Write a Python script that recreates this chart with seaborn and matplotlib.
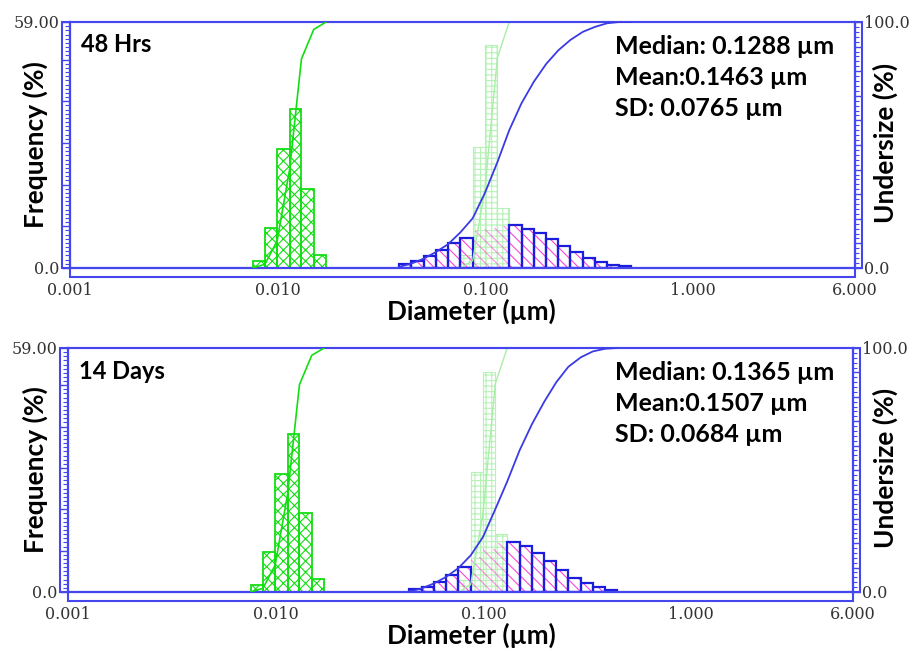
import numpy as np
import pandas as pd
import matplotlib
matplotlib.use("Agg")
import matplotlib.pyplot as plt
import matplotlib.ticker as mticker
from matplotlib.patches import Rectangle
import seaborn as sns

# ---------------- data ----------------
# size-class boundaries of the analyser (µm)
size_edges_um = [0.00757, 0.00867, 0.00993, 0.0114, 0.0130, 0.0149, 0.0171,
                 0.0196, 0.0224, 0.0256, 0.0294, 0.0336, 0.0385, 0.0440,
                 0.0504, 0.0577, 0.0661, 0.0757, 0.0867, 0.0993, 0.114,
                 0.130, 0.149, 0.171, 0.196, 0.224, 0.256, 0.294, 0.336,
                 0.385, 0.440, 0.504]

panel_labels = ["48 Hrs", "14 Days"]
median_text = ["Median: 0.1288 µm", "Median: 0.1365 µm"]
mean_text = ["Mean:0.1463 µm", "Mean:0.1507 µm"]
sd_text = ["SD: 0.0765 µm", "SD: 0.0684 µm"]

x_tick_values = [0.001, 0.01, 0.1, 1.0, 6.0]
x_tick_labels = ["0.001", "0.010", "0.100", "1.000", "6.000"]
freq_ticks = [0, 10, 20, 30, 40, 50, 59]
freq_tick_labels = ["0.0", "", "", "", "", "", "59.00"]
under_ticks = [0, 10, 20, 30, 40, 50, 60, 70, 80, 90, 100]
under_tick_labels = ["0.0", "", "", "", "", "", "", "", "", "", "100.0"]

# small (green) population: first size class index, frequency %, undersize % at edges
green_first_bin = [0, 0]
green_freq_48h = [1.7, 9.6, 28.5, 38.1, 19.0, 3.1]
green_freq_14d = [1.7, 9.7, 28.5, 38.1, 19.0, 3.1]
green_under_48h = [0.0, 1.5, 11.0, 40.0, 85.0, 97.0, 100.0]
green_under_14d = [0.0, 1.5, 11.0, 40.0, 85.0, 97.0, 100.0]

# faint reference distribution (light green)
ghost_first_bin = [17, 17]
ghost_freq_48h = [3.0, 29.1, 53.5, 14.3]
ghost_freq_14d = [3.0, 29.1, 53.3, 14.0]
ghost_under_48h = [0.0, 3.0, 32.0, 85.5, 100.0]
ghost_under_14d = [0.0, 3.0, 32.0, 85.5, 100.0]

# main (blue / pink) population
blue_first_bin = [12, 13]
blue_freq_48h = [0.9, 1.75, 2.95, 4.3, 5.9, 7.3, 8.9, 9.7, 10.1, 10.2, 9.4,
                 8.3, 7.0, 5.3, 3.8, 2.3, 1.4, 0.7, 0.4]
blue_freq_14d = [0.8, 1.3, 2.5, 4.1, 6.0, 8.5, 10.4, 11.8, 12.1, 11.1, 9.5,
                 7.6, 5.3, 3.5, 2.1, 1.1, 0.6]
blue_under_48h = [0.5, 1.8, 3.8, 6.5, 9.7, 14.5, 20.2, 30.5, 43.0, 56.0, 67.0,
                  75.8, 83.0, 88.5, 92.7, 96.0, 98.0, 99.5, 100.0, 100.0]
blue_under_14d = [0.2, 1.5, 3.5, 6.2, 9.8, 15.0, 22.5, 34.0, 45.3, 58.0, 68.8,
                  78.0, 86.0, 92.3, 96.2, 98.6, 99.7, 100.0]
faded_bins = [18, 19, 20]   # classes drawn without blue outline

panels = [
    dict(green=(green_first_bin[0], green_freq_48h, green_under_48h),
         ghost=(ghost_first_bin[0], ghost_freq_48h, ghost_under_48h),
         blue=(blue_first_bin[0], blue_freq_48h, blue_under_48h)),
    dict(green=(green_first_bin[1], green_freq_14d, green_under_14d),
         ghost=(ghost_first_bin[1], ghost_freq_14d, ghost_under_14d),
         blue=(blue_first_bin[1], blue_freq_14d, blue_under_14d)),
]

# ---------------- style ----------------
sns.set_style("white")
plt.rcParams["font.family"] = ["Lato", "DejaVu Sans"]
plt.rcParams["hatch.linewidth"] = 0.8

FRAME = "#4646ee"
BLUE_EDGE = "#1c1cdc"
BLUE_LINE = "#3a3ae6"
PINK = "#ff45d6"
GREEN = "#12de12"
GHOST = "#b6f2b6"
GHOST_LINE = "#a8eea8"
TICK_TXT = "#333333"

W, H = 916, 651
fig = plt.figure(figsize=(W / 100, H / 100), dpi=100)


def fx(px):
    return px / W


def fy(py):
    return 1 - py / H


panel_px = [(70, 22, 855, 268), (68, 348, 853, 592)]


def bars(ax, first, freq, color, hatch, lw, alpha=1.0, keep=None, z=2):
    n = len(freq)
    log_edges = np.log10(np.array(size_edges_um[first:first + n + 1]))
    centers = 10 ** ((log_edges[:-1] + log_edges[1:]) / 2)
    idx = np.arange(first, first + n)
    w = np.array(freq, float)
    if keep is not None:
        w = np.where(keep(idx), w, 0.0)
    df = pd.DataFrame({"d": centers, "f": w})
    sns.histplot(data=df, x="d", weights="f", bins=[float(v) for v in log_edges],
                 log_scale=True, stat="count", element="bars", fill=False,
                 color=color, alpha=alpha, hatch=hatch, linewidth=lw, ax=ax, zorder=z)


def curve(ax, first, under, color, lw, z=3):
    df = pd.DataFrame({"d": size_edges_um[first:first + len(under)], "u": under})
    sns.lineplot(data=df, x="d", y="u", ax=ax, color=color, linewidth=lw,
                 estimator=None, sort=False, zorder=z)


is_faded = lambda idx: np.isin(idx, faded_bins)
not_faded = lambda idx: ~np.isin(idx, faded_bins)

for p, (x0, y0, x1, y1) in enumerate(panel_px):
    ax = fig.add_axes([fx(x0), fy(y1), (x1 - x0) / W, (y1 - y0) / H])
    ax.set_xscale("log")
    ax2 = ax.twinx()
    d = panels[p]

    gf, gfreq, gunder = d["ghost"]
    bars(ax, gf, gfreq, GHOST, "+++", 0.8, z=1)

    bf, bfreq, bunder = d["blue"]
    bars(ax, bf, bfreq, PINK, "\\\\\\", 0.0, keep=not_faded, z=2)
    bars(ax, bf, bfreq, PINK, "\\\\\\", 0.0, alpha=0.6, keep=is_faded, z=2)
    bars(ax, bf, bfreq, BLUE_EDGE, None, 1.6, keep=not_faded, z=3)

    grf, grfreq, grunder = d["green"]
    bars(ax, grf, grfreq, GREEN, "xxx", 1.3, z=3)

    curve(ax2, gf, gunder, GHOST_LINE, 1.0, z=2)
    curve(ax2, grf, grunder, GREEN, 1.2, z=3)
    curve(ax2, bf, bunder, BLUE_LINE, 1.3, z=3)

    ax.set_xlim(0.001, 6.0)
    ax.set_ylim(0, 59.0)
    ax2.set_ylim(0, 100.0)
    for a in (ax, ax2):
        a.set_xlabel("")
        a.set_ylabel("")
        for s in a.spines.values():
            s.set_color(FRAME)
            s.set_linewidth(1.5)

    # x axis ticks
    ax.set_xticks(x_tick_values)
    ax.set_xticklabels(x_tick_labels)
    ax.xaxis.set_minor_locator(mticker.LogLocator(base=10, subs=np.arange(2, 10), numticks=30))
    ax.xaxis.set_minor_formatter(mticker.NullFormatter())
    ax.tick_params(axis="x", which="major", direction="out", length=6.5, width=1.2,
                   color=FRAME, labelsize=11.5, labelcolor=TICK_TXT, pad=3.6,
                   labelfontfamily="DejaVu Serif")
    ax.tick_params(axis="x", which="minor", direction="out", length=3, width=1.0, color=FRAME)

    # left axis
    ax.set_yticks(freq_ticks)
    ax.set_yticklabels(freq_tick_labels)
    ax.yaxis.set_minor_locator(mticker.MultipleLocator(1))
    ax.tick_params(axis="y", which="major", direction="out", length=5.8, width=1.0,
                   color=FRAME, labelsize=11.5, labelcolor=TICK_TXT, pad=1.5,
                   labelfontfamily="DejaVu Serif")
    ax.tick_params(axis="y", which="minor", direction="out", length=3.6, width=0.8, color=FRAME)

    # right axis
    ax2.set_yticks(under_ticks)
    ax2.set_yticklabels(under_tick_labels)
    ax2.yaxis.set_minor_locator(mticker.MultipleLocator(2))
    ax2.tick_params(axis="y", which="major", direction="out", length=5.0, width=1.0,
                    color=FRAME, labelsize=11.5, labelcolor=TICK_TXT, pad=1.2,
                    labelfontfamily="DejaVu Serif")
    ax2.tick_params(axis="y", which="minor", direction="out", length=2.9, width=0.8, color=FRAME)

    # axis strips
    wpx, hpx = x1 - x0, y1 - y0
    for rect in [(0, -9 / hpx, 1, 9 / hpx), (-8 / wpx, 0, 8 / wpx, 1), (1, 0, 7 / wpx, 1)]:
        ax.add_patch(Rectangle(rect[:2], rect[2], rect[3], transform=ax.transAxes,
                               fill=False, ec=FRAME, lw=1.5, clip_on=False, zorder=5))

    # texts
    fig.text(fx(35), fy((y0 + y1) / 2), "Frequency (%)", rotation=90, ha="center",
             va="center", fontsize=19, fontweight="bold", color="black")
    fig.text(fx(885), fy((y0 + y1) / 2 - 2), "Undersize (%)", rotation=90, ha="center",
             va="center", fontsize=19, fontweight="bold", color="black")
    fig.text(fx(471), fy(y1 + 43), "Diameter (µm)", ha="center", va="center",
             fontsize=18.8, fontweight="bold", color="black")
    fig.text(fx(x0 + 11), fy(y0 + 23), panel_labels[p], ha="left", va="center",
             fontsize=17, fontweight="bold", color="black")
    for k, t in enumerate([median_text[p], mean_text[p], sd_text[p]]):
        fig.text(fx(615), fy(y0 + 25 + 30.5 * k), t, ha="left", va="center",
                 fontsize=18, fontweight="bold", color="black")

fig.savefig("out.png", dpi=100)
